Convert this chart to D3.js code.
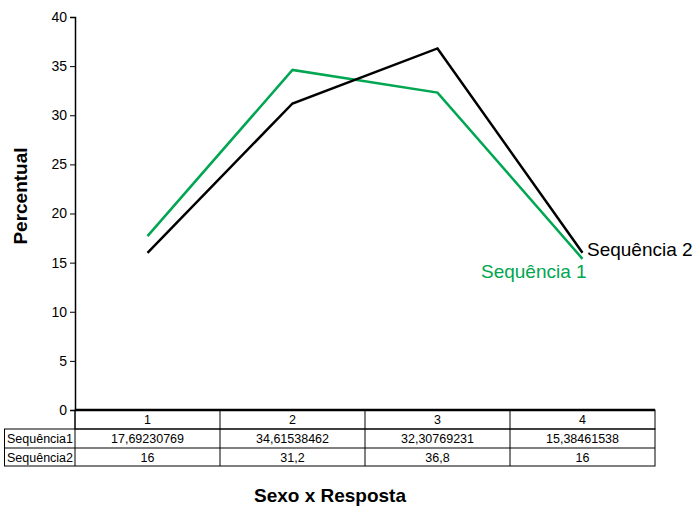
<!DOCTYPE html>
<html><head><meta charset="utf-8">
<script src="https://cdn.jsdelivr.net/npm/d3@7"></script>
<style>body{margin:0;background:#fff;}svg{display:block;}</style>
</head><body>
<svg id="c" width="697" height="507"></svg>
<script>
const categories = ["1", "2", "3", "4"];
const seriesNames = ["Sequência1", "Sequência2"];
const seq1 = [17.69230769, 34.61538462, 32.30769231, 15.38461538];
const seq2 = [16, 31.2, 36.8, 16];
const seq1Labels = ["17,69230769", "34,61538462", "32,30769231", "15,38461538"];
const seq2Labels = ["16", "31,2", "36,8", "16"];
const yTicks = [0, 5, 10, 15, 20, 25, 30, 35, 40];

(function () {
const svg = d3.select("#c");
const mLeft = 75, mRight = 655, mTop = 17, mBottom = 410;
const y = d3.scaleLinear().domain([0, 40]).range([mBottom, mTop]);
const x = d3.scaleBand().domain(categories).range([mLeft, mRight]);
const cx = d => x(d) + x.bandwidth() / 2;

// y axis
const yAxis = d3.axisLeft(y).tickValues(yTicks).tickSize(5).tickPadding(3);
const ga = svg.append("g").attr("transform", `translate(${mLeft},0)`).call(yAxis);
ga.select(".domain").attr("stroke", "#000").attr("stroke-width", 1.5);
ga.selectAll(".tick line").attr("stroke", "#000");
ga.selectAll(".tick text").attr("font-family", "Liberation Sans, Arial, sans-serif").attr("font-size", 14).attr("fill", "#000");

// table
const rowH = 19;
const t0 = mBottom;
const tg = svg.append("g").attr("font-family", "Liberation Sans Narrow, Arial Narrow, Liberation Sans, sans-serif").attr("font-size", 12.5);
tg.append("rect").attr("x", mLeft).attr("y", t0).attr("width", mRight - mLeft).attr("height", rowH).attr("fill", "none").attr("stroke", "#000");
tg.append("rect").attr("x", 4.5).attr("y", t0 + rowH).attr("width", mRight - 4.5).attr("height", rowH * 2 - 1).attr("fill", "none").attr("stroke", "#000");
tg.append("line").attr("x1", 4.5).attr("x2", mRight).attr("y1", t0 + 2 * rowH).attr("y2", t0 + 2 * rowH).attr("stroke", "#000");
tg.append("line").attr("x1", mLeft).attr("x2", mLeft).attr("y1", t0).attr("y2", t0 + 3 * rowH - 1).attr("stroke", "#000");
categories.forEach((c, i) => {
  if (i > 0) tg.append("line").attr("x1", x(c)).attr("x2", x(c)).attr("y1", t0).attr("y2", t0 + 3 * rowH - 1).attr("stroke", "#000");
  tg.append("text").attr("x", cx(c)).attr("y", t0 + 14).attr("text-anchor", "middle").text(c);
  tg.append("text").attr("x", cx(c)).attr("y", t0 + rowH + 14).attr("text-anchor", "middle").text(seq1Labels[i]);
  tg.append("text").attr("x", cx(c)).attr("y", t0 + 2 * rowH + 14).attr("text-anchor", "middle").text(seq2Labels[i]);
});
tg.append("text").attr("x", 7).attr("y", t0 + rowH + 14).text(seriesNames[0]);
tg.append("text").attr("x", 7).attr("y", t0 + 2 * rowH + 14).text(seriesNames[1]);

// zero line
svg.append("line").attr("x1", mLeft).attr("x2", mRight).attr("y1", y(0)).attr("y2", y(0)).attr("stroke", "#000").attr("stroke-width", 2.5);

// lines
const line = d3.line().x((d, i) => cx(categories[i])).y(d => y(d));
svg.append("path").datum(seq1).attr("d", line).attr("fill", "none").attr("stroke", "#00a651").attr("stroke-width", 2.5);
svg.append("path").datum(seq2).attr("d", line).attr("fill", "none").attr("stroke", "#000").attr("stroke-width", 2.5);

// series labels
svg.append("text").attr("x", 587).attr("y", 256).attr("font-family", "Liberation Sans, Arial, sans-serif").attr("font-size", 19).attr("fill", "#000").text("Sequência 2");
svg.append("text").attr("x", 481).attr("y", 278).attr("font-family", "Liberation Sans, Arial, sans-serif").attr("font-size", 19).attr("fill", "#00a651").text("Sequência 1");

// axis titles
svg.append("text").attr("transform", "translate(27,196) rotate(-90)").attr("text-anchor", "middle").attr("font-family", "Liberation Sans, Arial, sans-serif").attr("font-size", 19).attr("font-weight", "bold").text("Percentual");
svg.append("text").attr("x", 330).attr("y", 502).attr("text-anchor", "middle").attr("font-family", "Liberation Sans, Arial, sans-serif").attr("font-size", 19).attr("font-weight", "bold").text("Sexo x Resposta");
})();
</script>
</body></html>
